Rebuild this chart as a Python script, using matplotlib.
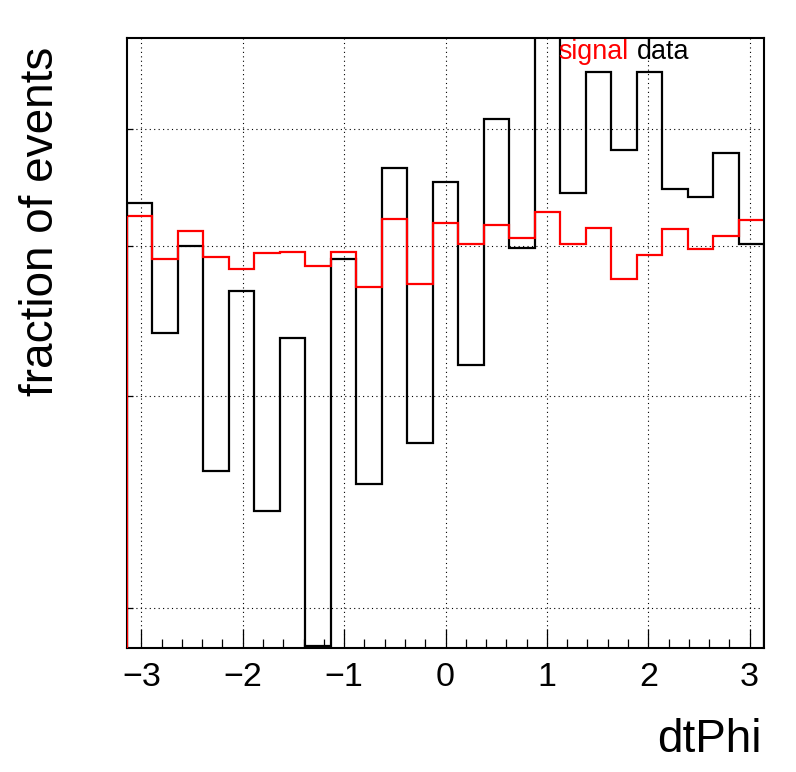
import numpy as np
import matplotlib
matplotlib.use("Agg")
import matplotlib.pyplot as plt
from matplotlib.ticker import FixedLocator, MultipleLocator, NullFormatter, NullLocator

plt.rcParams['font.family'] = ['Liberation Sans', 'DejaVu Sans']

# ---- data (25 bins in dtPhi from -pi to pi) ----
n_bins = 25
x_min, x_max = -np.pi, np.pi
data_values = [0.04343, 0.03387, 0.04000, 0.02601, 0.03671, 0.02408, 0.03357,
               0.01860, 0.03900, 0.02536, 0.04641, 0.02743, 0.04521, 0.03185,
               0.05097, 0.03985, 0.07000, 0.04426, 0.05573, 0.04805, 0.05573,
               0.04458, 0.04396, 0.04775, 0.04018]
signal_values = [0.04234, 0.03902, 0.04116, 0.03914, 0.03828, 0.03947, 0.03954,
                 0.03850, 0.03952, 0.03696, 0.04212, 0.03720, 0.04178, 0.04013,
                 0.04162, 0.04059, 0.04266, 0.04015, 0.04138, 0.03756, 0.03930,
                 0.04130, 0.03977, 0.04075, 0.04202]
x_ticks = [-3, -2, -1, 0, 1, 2, 3]
y_ticks = [0.02, 0.03, 0.04, 0.05]
y_lim = (0.01854, 0.05956)

edges = np.linspace(x_min, x_max, n_bins + 1)

fig = plt.figure(figsize=(7.96, 7.72), dpi=100)
ax = fig.add_axes([127 / 796, 1 - 648 / 772, 637 / 796, 610.3 / 772])

ax.set_yscale('log')
ax.set_xlim(x_min, x_max)
ax.set_ylim(*y_lim)

# histograms
ax.stairs(data_values, edges, baseline=1e-4, color='black', lw=1.6, zorder=3)
ax.stairs(signal_values, edges, baseline=None, color='red', lw=1.6, zorder=4)
ax.vlines(edges[0], 1e-4, signal_values[0], color='red', lw=1.6, zorder=6)

# axes styling
for s in ax.spines.values():
    s.set_linewidth(1.5)
    s.set_zorder(5)

ax.xaxis.set_major_locator(FixedLocator(x_ticks))
ax.xaxis.set_minor_locator(MultipleLocator(0.2))
ax.yaxis.set_major_locator(FixedLocator(y_ticks))
ax.yaxis.set_minor_locator(NullLocator())
ax.yaxis.set_major_formatter(NullFormatter())
ax.yaxis.set_minor_formatter(NullFormatter())

ax.tick_params(axis='x', which='major', direction='in', length=13.7, width=0.9,
               labelsize=24.5, pad=10, top=False)
ax.tick_params(axis='x', which='minor', direction='in', length=6.5, width=0.9, top=False)
ax.tick_params(axis='y', which='major', direction='in', length=4.3, width=0.9, right=False)
ax.set_xticklabels(['\u22123', '\u22122', '\u22121', '0', '1', '2', '3'])

ax.grid(True, which='major', color='black', lw=0.8, linestyle=(0, (1, 3)))
ax.set_axisbelow(True)

# axis titles
ax.set_xlabel('dtPhi', fontsize=33, ha='right', va='baseline')
ax.xaxis.set_label_coords((762 - 127) / 637, -(752 - 648) / 610.3)
ax.set_ylabel('fraction of events', fontsize=33, ha='right', va='baseline')
ax.yaxis.set_label_coords(-(127 - 53) / 637, (648 - 47) / 610.3)

# legend-like labels
fig.text(558 / 796, 1 - 59 / 772, 'signal', color='red', fontsize=19.4,
         ha='left', va='baseline')
fig.text(637 / 796, 1 - 59 / 772, 'data', color='black', fontsize=19.4,
         ha='left', va='baseline')

fig.savefig('out.png', dpi=100)
